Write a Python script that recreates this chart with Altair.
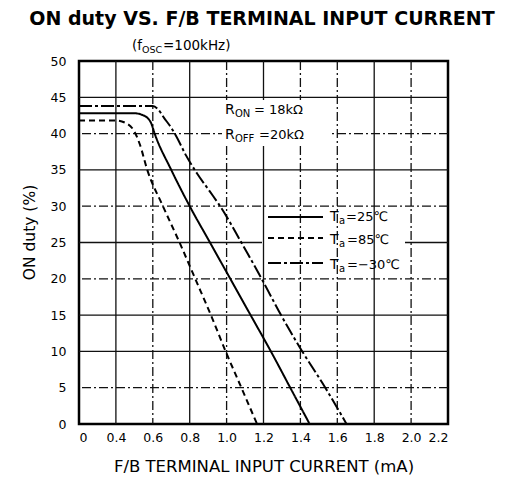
import altair as alt
import pandas as pd

# ---------------- data ----------------
# F/B terminal input current (mA) and ON duty (%)
x_25 = [0, 0.2, 0.4, 0.5, 0.55, 0.59, 0.61, 0.70, 0.80, 0.91, 1.02, 1.13, 1.24, 1.345, 1.45]
y_25 = [42.8, 42.8, 42.8, 42.8, 42.5, 41.5, 40, 35, 30, 25, 20, 15, 10, 5, 0]

x_85 = [0, 0.2, 0.4, 0.45, 0.5, 0.53, 0.57, 0.655, 0.745, 0.83, 0.915, 0.995, 1.08, 1.165]
y_85 = [41.8, 41.8, 41.8, 41.5, 40.3, 38.5, 35, 30, 25, 20, 15, 10, 5, 0]

x_m30 = [0, 0.2, 0.4, 0.6, 0.63, 0.66, 0.70, 0.73, 0.78, 0.84, 0.91, 0.965, 1.08, 1.19, 1.295, 1.41, 1.535, 1.65]
y_m30 = [43.8, 43.8, 43.8, 43.8, 43.3, 42.2, 40.8, 39.5, 37, 34.5, 32, 30, 25, 20, 15, 10, 5, 0]

series_names = ["Ta=25C", "Ta=85C", "Ta=-30C"]

# axis ticks (the 0 .. 0.4 stretch is drawn compressed, like one 0.2 step)
x_tick_pos = [0.2, 0.4, 0.6, 0.8, 1.0, 1.2, 1.4, 1.6, 1.8, 2.0, 2.2]
x_tick_labels = ["0", "0.4", "0.6", "0.8", "1.0", "1.2", "1.4", "1.6", "1.8", "2.0", "2.2"]
y_ticks = [0, 5, 10, 15, 20, 25, 30, 35, 40, 45, 50]

# grid lines
vgrid_solid = [0.4, 0.8, 1.2, 1.8]
vgrid_dashdot = [0.6, 1.0, 1.4, 1.6, 2.0]
hgrid_solid = [10, 15, 25, 35, 45]
hgrid_dashdot = [5, 20, 30, 40]

# ---------------- helpers ----------------
FONT = "DejaVu Sans"
PLOT_L, PLOT_T, PLOT_W, PLOT_H = 79, 61, 369, 363


def dx(px):  # page pixel -> x data (plot units)
    return 0.2 + 2.0 * (px - PLOT_L) / PLOT_W


def dy(py):  # page pixel -> y data
    return 50.0 * (PLOT_T + PLOT_H - py) / PLOT_H


xscale = alt.Scale(domain=[0.2, 2.2], nice=False, zero=False)
yscale = alt.Scale(domain=[0, 50], nice=False, zero=False)

label_expr = "{" + ",".join(f"'{p:.1f}':'{l}'" for p, l in zip(x_tick_pos, x_tick_labels)) + "}[format(datum.value,'.1f')]"

xaxis = alt.Axis(values=x_tick_pos, labelExpr=label_expr, grid=False, ticks=False, domain=False,
                 labelFont=FONT, labelFontSize=12.5, labelColor="black", labelPadding=7,
                 title="F/B TERMINAL INPUT CURRENT (mA)", titleFont=FONT, titleFontSize=16.5,
                 titleFontWeight="normal", titleColor="black", titlePadding=15)
yaxis = alt.Axis(values=y_ticks, grid=False, ticks=False, domain=False,
                 labelFont=FONT, labelFontSize=12.5, labelColor="black", labelPadding=13,
                 title="ON duty (%)", titleFont=FONT, titleFontSize=15.5, titleY=171,
                 titleFontWeight="normal", titleColor="black", titlePadding=13)


def X(field, **kw):
    return alt.X(field, type="quantitative", scale=xscale, axis=xaxis, **kw)


def Y(field, **kw):
    return alt.Y(field, type="quantitative", scale=yscale, axis=yaxis, **kw)


# ---------------- tables ----------------
rows = []
for name, xs, ys in zip(series_names, [x_25, x_85, x_m30], [y_25, y_85, y_m30]):
    for i, (a, b) in enumerate(zip(xs, ys)):
        rows.append({"series": name, "i": i, "x": a, "y": b})
curves = pd.DataFrame(rows)

dash_range = [[1, 0], [6, 4], [13, 3, 3, 3]]
dash_scale = alt.Scale(domain=series_names, range=dash_range)

vg = pd.DataFrame({"x": vgrid_solid + vgrid_dashdot,
                   "kind": ["s"] * len(vgrid_solid) + ["d"] * len(vgrid_dashdot)})
hg = pd.DataFrame({"y": hgrid_solid + hgrid_dashdot,
                   "kind": ["s"] * len(hgrid_solid) + ["d"] * len(hgrid_dashdot)})
grid_dash = alt.Scale(domain=["s", "d"], range=[[1, 0], [9, 3, 2, 3]])

# white patches behind the annotations
legend_box = pd.DataFrame({"x": [dx(262)], "x2": [dx(405)], "y": [dy(212)], "y2": [dy(272)]})
rtext_box = pd.DataFrame({"x": [dx(222)], "x2": [dx(330)], "y": [dy(100)], "y2": [dy(146)]})

# legend lines
leg_rows_py = [217, 238, 263]
legend_lines = pd.DataFrame({"series": series_names,
                             "x": [dx(268)] * 3, "x2": [dx(323)] * 3,
                             "y": [dy(p) for p in leg_rows_py]})

# text pieces: text, page px, page py, size
left_texts = [
    ("(f", 132, 46, 13.5), ("OSC", 142, 50, 9.5), ("=100kHz)", 163, 46, 13.5),
    ("R", 225, 110, 14), ("ON", 235, 114, 10), ("= 18kΩ", 254, 110, 13),
    ("R", 225, 135, 14), ("OFF", 235, 139, 10), ("=20kΩ", 259, 135, 13),
    ("T", 330, 217, 14), ("a", 339, 221, 10), ("=25℃", 346, 217, 13),
    ("T", 330, 240, 14), ("a", 339, 244, 10), ("=85℃", 347, 240, 13),
    ("T", 330, 265, 14), ("a", 339, 269, 10), ("=−30℃", 347, 265, 13),
]
lt = pd.DataFrame({"text": [t[0] for t in left_texts],
                   "x": [dx(t[1]) for t in left_texts],
                   "y": [dy(t[2]) for t in left_texts],
                   "size": [t[3] for t in left_texts]})
title_df = pd.DataFrame({"text": ["ON duty VS. F/B TERMINAL INPUT CURRENT"],
                         "x": [dx(262)], "y": [dy(19)]})

# ---------------- layers ----------------
hgrid = alt.Chart(hg).mark_rule(color="#111", strokeWidth=1.3).encode(
    y=Y("y"), strokeDash=alt.StrokeDash("kind:N", scale=grid_dash, legend=None))
lbox = alt.Chart(legend_box).mark_rect(fill="white").encode(x=X("x"), x2="x2", y=Y("y"), y2="y2")
vgrid = alt.Chart(vg).mark_rule(color="#111", strokeWidth=1.3).encode(
    x=X("x"), strokeDash=alt.StrokeDash("kind:N", scale=grid_dash, legend=None))
rbox = alt.Chart(rtext_box).mark_rect(fill="white").encode(x=X("x"), x2="x2", y=Y("y"), y2="y2")

lines = alt.Chart(curves).transform_calculate(
    pos="datum.x < 0.4 ? 0.2 + datum.x / 2 : datum.x"
).mark_line(color="black", strokeWidth=2, interpolate="monotone").encode(
    x=X("pos"), y=Y("y"), detail="series:N", order="i:Q",
    strokeDash=alt.StrokeDash("series:N", scale=dash_scale, legend=None))

leg = alt.Chart(legend_lines).mark_rule(color="black", strokeWidth=2).encode(
    x=X("x"), x2="x2", y=Y("y"),
    strokeDash=alt.StrokeDash("series:N", scale=dash_scale, legend=None))

texts = alt.Chart(lt).mark_text(align="left", baseline="middle", font=FONT, color="black").encode(
    x=X("x"), y=Y("y"), text="text:N", size=alt.Size("size:Q", scale=None, legend=None))

title = alt.Chart(title_df).mark_text(align="center", baseline="middle", font=FONT,
                                      fontSize=19, fontWeight="bold", color="black").encode(
    x=X("x"), y=Y("y"), text="text:N")

chart = alt.layer(hgrid, lbox, vgrid, rbox, lines, leg, texts, title).resolve_scale(
    strokeDash="independent"
).properties(
    width=PLOT_W, height=PLOT_H,
    autosize=alt.AutoSizeParams(type="none"),
    padding={"left": PLOT_L - 8, "top": PLOT_T - 8, "right": 519 - 8 - PLOT_L - PLOT_W, "bottom": 488 - 8 - PLOT_T - PLOT_H},
    background="white",
).configure_view(stroke="black", strokeWidth=2.5)

chart.save("out.html", embed_options={"renderer": "svg", "actions": False})
